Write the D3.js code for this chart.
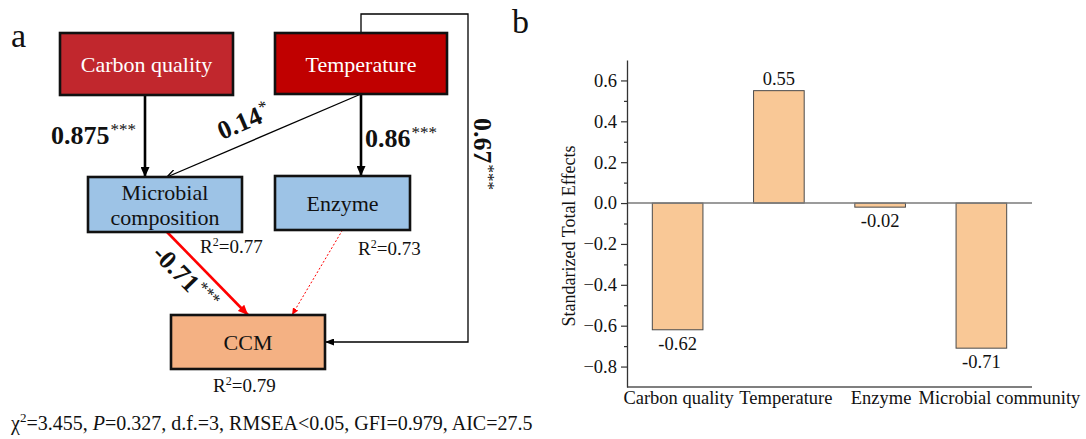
<!DOCTYPE html>
<html>
<head>
<meta charset="utf-8">
<script src="https://cdn.jsdelivr.net/npm/d3@7"></script>
<style>
  body { margin: 0; background: #fff; }
  svg { display: block; }
  svg text { font-family: "Liberation Serif", "DejaVu Serif", "Times New Roman", Times, serif !important; fill: #111; }
</style>
</head>
<body>
<svg id="fig" width="1086" height="439" font-family="Liberation Serif, DejaVu Serif, serif"></svg>
<script>
// ---------- Panel a: structural equation model ----------
const nodeNames = ["Carbon quality", "Temperature", "Microbial composition", "Enzyme", "CCM"];
const nodeR2 = [null, null, 0.77, 0.73, 0.79];
const pathFrom = ["Carbon quality", "Temperature", "Temperature", "Microbial composition", "Enzyme", "Temperature"];
const pathTo = ["Microbial composition", "Microbial composition", "Enzyme", "CCM", "CCM", "CCM"];
const pathCoef = [0.875, 0.14, 0.86, -0.71, null, 0.67];
const pathSig = ["***", "*", "***", "***", "", "***"];
const fitChi2 = 3.455, fitP = 0.327, fitDf = 3, fitRmsea = "<0.05", fitGfi = 0.979, fitAic = 27.5;

// ---------- Panel b: standardized total effects ----------
const effectCategories = ["Carbon quality", "Temperature", "Enzyme", "Microbial community"];
const effectValues = [-0.62, 0.55, -0.02, -0.71];
const yTickValues = [-0.8, -0.6, -0.4, -0.2, 0.0, 0.2, 0.4, 0.6];
const yMinorValues = [-0.7, -0.5, -0.3, -0.1, 0.1, 0.3, 0.5];

const SERIF = "'Liberation Serif', 'DejaVu Serif', 'Times New Roman', serif";
const svg = d3.select("#fig");

// ---- markers ----
const defs = svg.append("defs");
function marker(id, color, len, wid, open) {
  const m = defs.append("marker").attr("id", id)
    .attr("markerUnits", "userSpaceOnUse")
    .attr("viewBox", `0 ${-wid / 2} ${len} ${wid}`)
    .attr("refX", len).attr("refY", 0)
    .attr("markerWidth", len).attr("markerHeight", wid)
    .attr("orient", "auto");
  if (open) {
    m.append("path").attr("d", `M0,${-wid / 2}L${len},0L0,${wid / 2}`)
      .attr("fill", "none").attr("stroke", color).attr("stroke-width", 1.3);
  } else {
    m.append("path").attr("d", `M0,${-wid / 2}L${len},0L0,${wid / 2}Z`).attr("fill", color);
  }
}
marker("arrBold", "#000", 10, 9, false);
marker("arrThin", "#000", 9, 7, false);
marker("arrOpen", "#000", 9, 8, true);
marker("arrRed", "#ff0000", 10, 9, false);
marker("arrRedThin", "#ff0000", 7, 6, false);

// ---- node layout ----
const layout = {
  "Carbon quality": { x0: 60, y0: 33, x1: 233, y1: 95, fill: "#c1272d", ink: "#fff", lines: ["Carbon quality"], base: [72] },
  "Temperature": { x0: 275, y0: 33, x1: 447, y1: 94, fill: "#c00000", ink: "#fff", lines: ["Temperature"], base: [72] },
  "Microbial composition": { x0: 88, y0: 177, x1: 242, y1: 232, fill: "#9dc3e6", ink: "#111", lines: ["Microbial", "composition"], base: [200, 225], r2: [200, 253] },
  "Enzyme": { x0: 275, y0: 176, x1: 410, y1: 230, fill: "#9dc3e6", ink: "#111", lines: ["Enzyme"], base: [211], r2: [358, 255] },
  "CCM": { x0: 171, y0: 315, x1: 325, y1: 369, fill: "#f4b183", ink: "#111", lines: ["CCM"], base: [350], r2: [213, 392] }
};
const cx = n => (layout[n].x0 + layout[n].x1) / 2;

const gA = svg.append("g");

// panel letter
gA.append("text").attr("x", 11).attr("y", 47).attr("font-size", 34).text("a");

// ---- paths ----
const T = "Temperature", CQ = "Carbon quality", MC = "Microbial composition", EZ = "Enzyme", C = "CCM";
const pathStyle = [
  { pts: () => [[cx(CQ) - 1.5, layout[CQ].y1], [cx(CQ) - 1.5, layout[MC].y0]], stroke: "#000", w: 2.6, mk: "arrBold" },
  { pts: () => [[cx(T), layout[T].y1], [cx(MC) + 2, layout[MC].y0]], stroke: "#000", w: 1.3, mk: "arrOpen" },
  { pts: () => [[cx(T), layout[T].y1], [cx(T), layout[EZ].y0]], stroke: "#000", w: 2.6, mk: "arrBold" },
  { pts: () => [[cx(MC) + 2, layout[MC].y1], [cx(C), layout[C].y0]], stroke: "#ff0000", w: 2.6, mk: "arrRed" },
  { pts: () => [[cx(EZ), layout[EZ].y1], [cx(C) + 44, layout[C].y0]], stroke: "#ff0000", w: 1, mk: "arrRedThin", dash: "2,2" },
  { pts: () => [[cx(T), layout[T].y0], [cx(T), 14], [468, 14], [468, 342], [layout[C].x1, 342]], stroke: "#000", w: 1.3, mk: "arrThin" }
];
const line = d3.line();
pathFrom.forEach((f, i) => {
  const s = pathStyle[i];
  gA.append("path").attr("d", line(s.pts()))
    .attr("fill", "none").attr("stroke", s.stroke).attr("stroke-width", s.w)
    .attr("stroke-dasharray", s.dash || null)
    .attr("marker-end", `url(#${s.mk})`);
});

// ---- boxes ----
nodeNames.forEach((n, i) => {
  const b = layout[n];
  gA.append("rect").attr("x", b.x0).attr("y", b.y0)
    .attr("width", b.x1 - b.x0).attr("height", b.y1 - b.y0)
    .attr("fill", b.fill).attr("stroke", "#111").attr("stroke-width", 2.6);
  b.lines.forEach((t, j) => {
    gA.append("text").attr("x", (b.x0 + b.x1) / 2).attr("y", b.base[j])
      .attr("text-anchor", "middle").attr("font-size", 22)
      .style("fill", b.ink).text(t);
  });
  if (nodeR2[i] !== null) {
    const t = gA.append("text").attr("x", b.r2[0]).attr("y", b.r2[1]).attr("font-size", 19);
    t.append("tspan").text("R");
    t.append("tspan").attr("font-size", 12).attr("dy", -7).text("2");
    t.append("tspan").attr("dy", 7).text("=" + nodeR2[i].toFixed(2));
  }
});

// ---- coefficient labels ----
const coefPlace = [
  { x: 51, y: 144, rot: 0 },
  { x: 222, y: 140, rot: null },
  { x: 365, y: 147, rot: 0 },
  { x: 151, y: 255, rot: null },
  null,
  { x: 474, y: 118, rot: 90 }
];
pathCoef.forEach((v, i) => {
  if (v === null) return;
  const p = coefPlace[i];
  let rot = p.rot;
  if (rot === null) {
    const pts = pathStyle[i].pts();
    const a = pts[0], b = pts[pts.length - 1];
    let ang = Math.atan2(b[1] - a[1], b[0] - a[0]) * 180 / Math.PI;
    if (ang > 90) ang -= 180;
    if (ang < -90) ang += 180;
    rot = ang;
  }
  const t = gA.append("text").attr("transform", `translate(${p.x},${p.y}) rotate(${rot})`);
  t.append("tspan").attr("font-size", 26).attr("font-weight", "bold").text(String(v));
  t.append("tspan").attr("font-size", 17).attr("dy", -9).attr("dx", 1).text(pathSig[i]);
});

// ---- model fit ----
const fit = gA.append("text").attr("x", 11).attr("y", 430).attr("font-size", 20);
fit.append("tspan").text("\u03c7");
fit.append("tspan").attr("font-size", 13).attr("dy", -8).text("2");
fit.append("tspan").attr("dy", 8).text("=" + fitChi2 + ", ");
fit.append("tspan").attr("font-style", "italic").text("P");
fit.append("tspan").text("=" + fitP + ", d.f.=" + fitDf + ", RMSEA" + fitRmsea + ", GFI=" + fitGfi + ", AIC=" + fitAic);

// ---------- Panel b ----------
const gB = svg.append("g");
gB.append("text").attr("x", 512).attr("y", 33).attr("font-size", 34).text("b");

const x = d3.scaleBand().domain(effectCategories).range([627, 1032])
  .paddingInner(0.5).paddingOuter(0.25);
const y = d3.scaleLinear().domain([-0.9, 0.7]).range([387, 60]);

// bars
gB.selectAll("rect.bar").data(effectCategories).join("rect")
  .attr("class", "bar")
  .attr("x", d => x(d))
  .attr("width", x.bandwidth())
  .attr("y", (d, i) => y(Math.max(0, effectValues[i])))
  .attr("height", (d, i) => Math.abs(y(effectValues[i]) - y(0)))
  .attr("fill", "#f9c896").attr("stroke", "#4a4a4a").attr("stroke-width", 1);

// zero line and bottom line
gB.append("line").attr("x1", 627).attr("x2", 1032).attr("y1", y(0)).attr("y2", y(0))
  .attr("stroke", "#7a7a7a").attr("stroke-width", 1.5);
gB.append("line").attr("x1", 627).attr("x2", 1032).attr("y1", y(-0.9)).attr("y2", y(-0.9))
  .attr("stroke", "#555").attr("stroke-width", 1.5);

// y axis
const yAxis = gB.append("g").attr("transform", "translate(627,0)")
  .call(d3.axisLeft(y).tickValues(yTickValues).tickFormat(d3.format(".1f")).tickSize(6).tickSizeOuter(0).tickPadding(4));
yAxis.attr("font-family", SERIF);
yAxis.select(".domain").attr("stroke", "#333").attr("stroke-width", 1.3);
yAxis.selectAll(".tick line").attr("stroke", "#333").attr("stroke-width", 1.2);
yAxis.selectAll(".tick text").attr("font-size", 18.5).attr("fill", "#222");
gB.append("g").attr("transform", "translate(627,0)")
  .call(d3.axisLeft(y).tickValues(yMinorValues).tickFormat("").tickSize(3).tickSizeOuter(0))
  .call(g => g.select(".domain").remove())
  .selectAll(".tick line").attr("stroke", "#333").attr("stroke-width", 1.2);

// axis title
gB.append("text").attr("transform", `translate(575,236) rotate(-90)`)
  .attr("text-anchor", "middle").attr("font-size", 18).text("Standarized Total Effects");

// value labels
const fmtVal = d3.format(".2f");
gB.selectAll("text.val").data(effectCategories).join("text")
  .attr("class", "val")
  .attr("x", d => x(d) + x.bandwidth() / 2)
  .attr("y", (d, i) => effectValues[i] >= 0 ? y(effectValues[i]) - 6 : y(effectValues[i]) + 20)
  .attr("text-anchor", "middle").attr("font-size", 18.5)
  .text((d, i) => fmtVal(effectValues[i]).replace("\u2212", "-"));

// category labels
const labelNudge = [1, 7, 1, 18];
gB.selectAll("text.cat").data(effectCategories).join("text")
  .attr("class", "cat")
  .attr("x", (d, i) => x(d) + x.bandwidth() / 2 + labelNudge[i])
  .attr("y", 404)
  .attr("text-anchor", "middle").attr("font-size", 18.5)
  .text(d => d);

// serif face on every label
svg.selectAll("text").style("font-family", SERIF);
</script>
</body>
</html>
